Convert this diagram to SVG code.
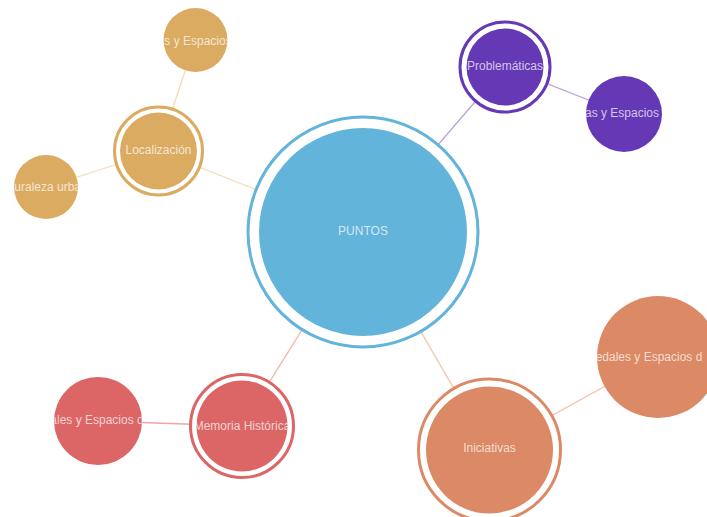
<svg xmlns="http://www.w3.org/2000/svg" width="707" height="517" viewBox="0 0 707 517">
<style>
.lbl{font-family:"Liberation Sans",Arial,sans-serif;font-size:12px;fill:#fff;fill-opacity:0.72;text-anchor:middle;dominant-baseline:central}
.ring{fill:#fff;stroke-width:3}
.edge{stroke-width:1.3;fill:none}
</style>
<defs>
<clipPath id="cT"><circle cx="195.5" cy="40" r="32"/></clipPath>
<clipPath id="cN"><circle cx="46" cy="187" r="32"/></clipPath>
<clipPath id="cP"><circle cx="624" cy="114" r="38"/></clipPath>
<clipPath id="cR"><circle cx="98" cy="421" r="44"/></clipPath>
<clipPath id="cO"><circle cx="658" cy="357" r="61"/></clipPath>
</defs>
<rect width="707" height="517" fill="#fff"/>
<g id="connectors">
<line class="edge" x1="363" y1="232" x2="158.5" y2="151" stroke="#f2dcb6"/>
<line class="edge" x1="158.5" y1="151" x2="195.5" y2="40" stroke="#f2dcb6"/>
<line class="edge" x1="158.5" y1="151" x2="46" y2="187" stroke="#f2dcb6"/>
<line class="edge" x1="363" y1="232" x2="505" y2="67" stroke="#b9a3e0"/>
<line class="edge" x1="505" y1="67" x2="624" y2="114" stroke="#b9a3e0"/>
<line class="edge" x1="363" y1="232" x2="242" y2="426" stroke="#f2b7ae"/>
<line class="edge" x1="242" y1="426" x2="98" y2="421" stroke="#eea5a5"/>
<line class="edge" x1="363" y1="232" x2="489.5" y2="450" stroke="#f3c2a9"/>
<line class="edge" x1="489.5" y1="450" x2="658" y2="357" stroke="#f3c2a9"/>
</g>
<g id="puntos">
<circle class="ring" cx="363" cy="232" r="115" stroke="#63b4da"/>
<circle cx="363" cy="232" r="104" fill="#63b4da"/>
<text class="lbl" x="363" y="231">PUNTOS</text>
</g>
<g id="localizacion">
<circle class="ring" cx="158.5" cy="151" r="44" stroke="#dcab62"/>
<circle cx="158.5" cy="151" r="38.5" fill="#dcab62"/>
<text class="lbl" x="158.5" y="150">Localización</text>
</g>
<g id="tan-top">
<circle cx="195.5" cy="40" r="32" fill="#dcab62"/>
<text class="lbl" x="198" y="41" clip-path="url(#cT)">s y Espacios</text>
</g>
<g id="naturaleza">
<circle cx="46" cy="187" r="32" fill="#dcab62"/>
<text class="lbl" x="46" y="187" clip-path="url(#cN)">turaleza urba</text>
</g>
<g id="problematicas">
<circle class="ring" cx="505" cy="67" r="45" stroke="#6538b5"/>
<circle cx="505" cy="67" r="38.5" fill="#6538b5"/>
<text class="lbl" x="505" y="66">Problemáticas</text>
</g>
<g id="purple-small">
<circle cx="624" cy="114" r="38" fill="#6538b5"/>
<text class="lbl" x="622" y="113" clip-path="url(#cP)">as y Espacios</text>
</g>
<g id="memoria">
<circle class="ring" cx="242" cy="426" r="51.5" stroke="#dc6566"/>
<circle cx="242" cy="426" r="45.5" fill="#dc6566"/>
<text class="lbl" x="242" y="426">Memoria Histórica</text>
</g>
<g id="red-small">
<circle cx="98" cy="421" r="44" fill="#dc6566"/>
<text class="lbl" x="97" y="420" clip-path="url(#cR)">ales y Espacios d</text>
</g>
<g id="iniciativas">
<circle class="ring" cx="489.5" cy="450" r="71" stroke="#dc8965"/>
<circle cx="489.5" cy="450" r="63.5" fill="#dc8965"/>
<text class="lbl" x="489.5" y="448">Iniciativas</text>
</g>
<g id="orange-big">
<circle cx="658" cy="357" r="61" fill="#dc8965"/>
<text class="lbl" x="649" y="357" clip-path="url(#cO)">edales y Espacios d</text>
</g>
</svg>
